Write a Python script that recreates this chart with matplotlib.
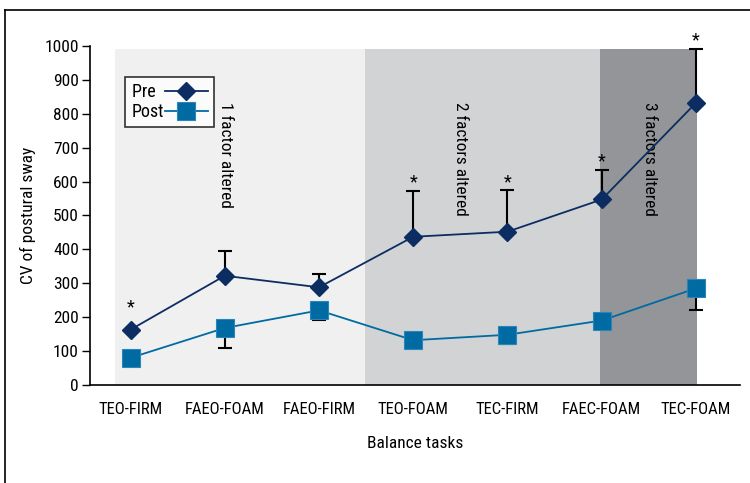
import matplotlib
matplotlib.use("Agg")
import matplotlib.pyplot as plt
from matplotlib.lines import Line2D
from matplotlib import font_manager

names = {f.name for f in font_manager.fontManager.ttflist}
fam = [n for n in ["Liberation Sans Narrow", "Roboto Condensed", "Open Sans Condensed", "DejaVu Sans Condensed", "DejaVu Sans"] if n in names]
plt.rcParams['font.family'] = fam

tasks = ["TEO-FIRM", "FAEO-FOAM", "FAEO-FIRM", "TEO-FOAM", "TEC-FIRM", "FAEC-FOAM", "TEC-FOAM"]
pre = [163, 322, 288, 437, 452, 547, 832]
pre_err_up = [0, 72, 38, 135, 122, 88, 158]
post = [80, 168, 220, 132, 148, 190, 285]
post_err_down = [0, 60, 27, 0, 28, 0, 63]
star_tasks = ["TEO-FIRM", "TEO-FOAM", "TEC-FIRM", "FAEC-FOAM", "TEC-FOAM"]
star_values = [228, 598, 598, 660, 1015]
region_labels = ["1 factor altered", "2 factors altered", "3 factors altered"]
region_bounds = [(-0.16, 2.49), (2.49, 4.98), (4.98, 6.01)]
region_colors = ["#f0f0f0", "#d2d3d5", "#939598"]
region_top = 990

pre_color = "#0b2d62"
post_color = "#006aa2"

fig = plt.figure(figsize=(7.5, 4.83), dpi=100)
ax = fig.add_axes([0.12, 0.203, 0.867, 0.702])
x = list(range(len(tasks)))

for (a, b), c in zip(region_bounds, region_colors):
    ax.fill_between([a, b], 0, region_top, color=c, lw=0, zorder=0)

rx = [1.01, 3.5, 5.51]
for lab, xx in zip(region_labels, rx):
    ax.text(xx, 835, lab, rotation=270, ha='center', va='top', fontsize=12.5, color='black', zorder=1)

ax.errorbar(x, pre, yerr=[[0]*7, pre_err_up], fmt='none', ecolor='black', elinewidth=1.5, capsize=5, capthick=1.5, zorder=2)
ax.errorbar(x, post, yerr=[post_err_down, [0]*7], fmt='none', ecolor='black', elinewidth=1.5, capsize=5, capthick=1.5, zorder=2)

ax.plot(x, post, color=post_color, lw=1.3, marker='s', ms=13, mfc=post_color, mec='#2a86b8', mew=0.8, zorder=3, label='Post')
ax.plot(x, pre, color=pre_color, lw=1.3, marker='D', ms=9.5, mfc=pre_color, mec=pre_color, zorder=4, label='Pre  ')

for t, v in zip(star_tasks, star_values):
    ax.text(tasks.index(t), v, "*", ha='center', va='center', fontsize=13, clip_on=False, zorder=5)

ax.set_xlim(-0.43, 6.47)
ax.set_ylim(0, 1000)
ax.set_yticks(range(0, 1001, 100))
ax.set_xticks(x)
ax.set_xticklabels(tasks, fontsize=12)
ax.tick_params(axis='y', labelsize=12.5, length=6, width=1, direction='out', pad=2)
ax.tick_params(axis='x', length=0, pad=12)
ax.spines['top'].set_visible(False)
ax.spines['right'].set_visible(False)
ax.spines['left'].set_linewidth(1.2)
ax.spines['bottom'].set_linewidth(1.2)
ax.set_ylabel("CV of postural sway", fontsize=12.5, labelpad=6)
ax.set_xlabel("Balance tasks", fontsize=12.5, labelpad=14)

h, l = ax.get_legend_handles_labels()
leg = ax.legend([h[1], h[0]], [l[1], l[0]], loc='upper left', bbox_to_anchor=(0.04, 0.935),
                markerfirst=False, fontsize=13, frameon=True, fancybox=False, edgecolor='black',
                handlelength=2.4, handletextpad=0.05, borderpad=0.35, labelspacing=0.1)
leg.get_frame().set_linewidth(1.2)
leg.get_frame().set_facecolor('white')

fig.add_artist(Line2D([5/750, 5/750], [0, 1-10/483], color='black', lw=1.2, transform=fig.transFigure))
fig.add_artist(Line2D([5/750, 1], [1-10/483, 1-10/483], color='black', lw=1.2, transform=fig.transFigure))

fig.savefig("out.png", dpi=100)
